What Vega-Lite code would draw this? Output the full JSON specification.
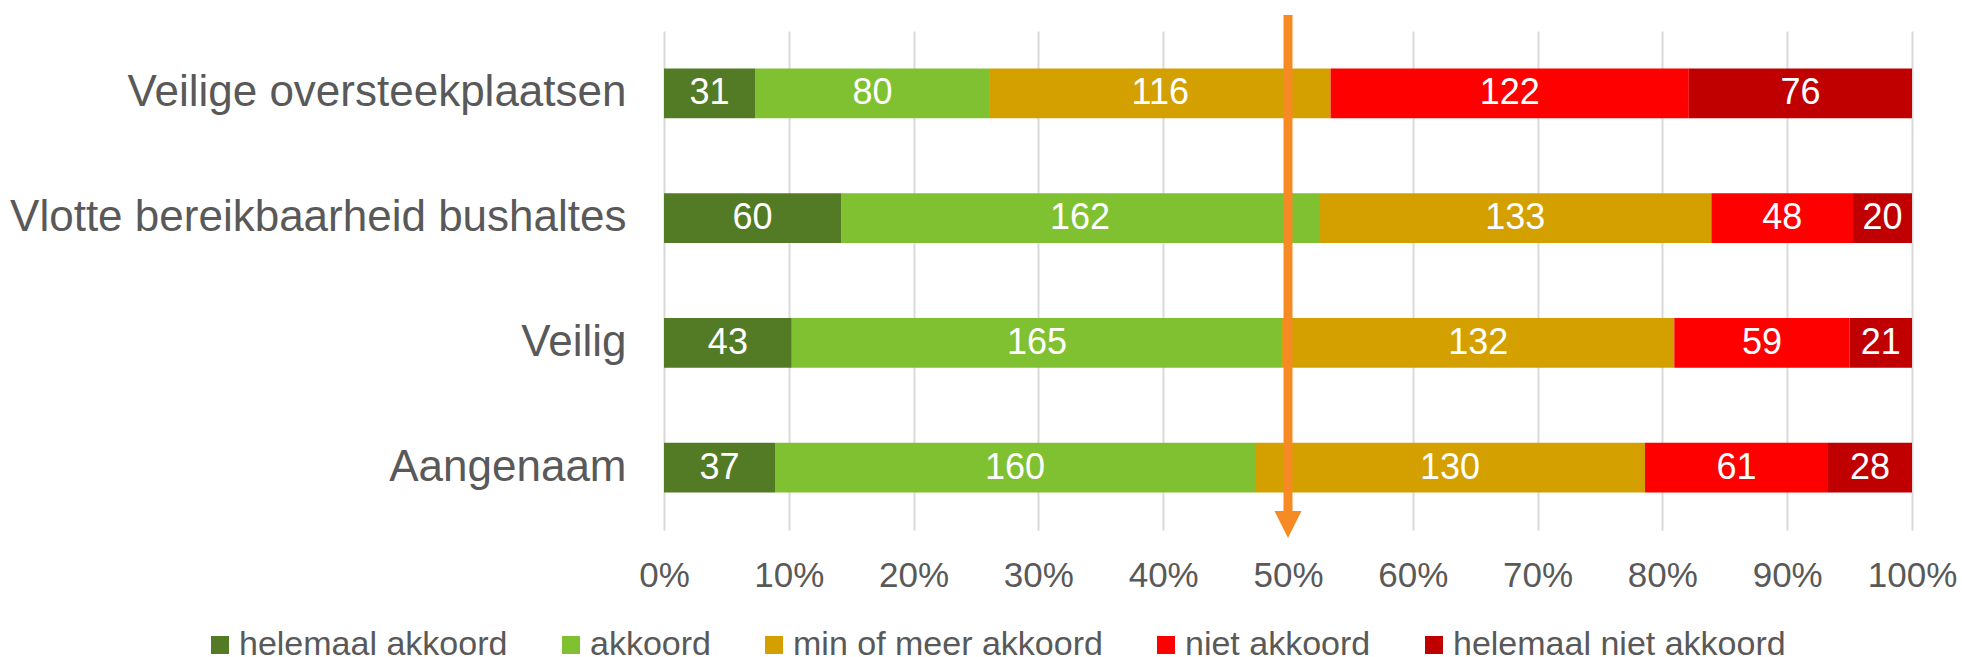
{
  "$schema": "https://vega.github.io/schema/vega-lite/v6.json",
  "width": 1248,
  "height": 499,
  "autosize": {"type": "none"},
  "padding": {"left": 664, "top": 31, "right": 50, "bottom": 127},
  "background": "white",
  "config": {
    "view": {"stroke": null},
    "font": "Liberation Sans"
  },
  "layer": [
    {
      "data": {
        "values": [
          {"q": "Veilige oversteekplaatsen", "cat": "helemaal akkoord", "k": 1, "n": 31},
          {"q": "Veilige oversteekplaatsen", "cat": "akkoord", "k": 2, "n": 80},
          {"q": "Veilige oversteekplaatsen", "cat": "min of meer akkoord", "k": 3, "n": 116},
          {"q": "Veilige oversteekplaatsen", "cat": "niet akkoord", "k": 4, "n": 122},
          {"q": "Veilige oversteekplaatsen", "cat": "helemaal niet akkoord", "k": 5, "n": 76},
          {"q": "Vlotte bereikbaarheid bushaltes", "cat": "helemaal akkoord", "k": 1, "n": 60},
          {"q": "Vlotte bereikbaarheid bushaltes", "cat": "akkoord", "k": 2, "n": 162},
          {"q": "Vlotte bereikbaarheid bushaltes", "cat": "min of meer akkoord", "k": 3, "n": 133},
          {"q": "Vlotte bereikbaarheid bushaltes", "cat": "niet akkoord", "k": 4, "n": 48},
          {"q": "Vlotte bereikbaarheid bushaltes", "cat": "helemaal niet akkoord", "k": 5, "n": 20},
          {"q": "Veilig", "cat": "helemaal akkoord", "k": 1, "n": 43},
          {"q": "Veilig", "cat": "akkoord", "k": 2, "n": 165},
          {"q": "Veilig", "cat": "min of meer akkoord", "k": 3, "n": 132},
          {"q": "Veilig", "cat": "niet akkoord", "k": 4, "n": 59},
          {"q": "Veilig", "cat": "helemaal niet akkoord", "k": 5, "n": 21},
          {"q": "Aangenaam", "cat": "helemaal akkoord", "k": 1, "n": 37},
          {"q": "Aangenaam", "cat": "akkoord", "k": 2, "n": 160},
          {"q": "Aangenaam", "cat": "min of meer akkoord", "k": 3, "n": 130},
          {"q": "Aangenaam", "cat": "niet akkoord", "k": 4, "n": 61},
          {"q": "Aangenaam", "cat": "helemaal niet akkoord", "k": 5, "n": 28}
        ]
      },
      "encoding": {
        "y": {
          "field": "q",
          "type": "nominal",
          "sort": null,
          "title": null,
          "scale": {"paddingInner": 0.6, "paddingOuter": 0.3},
          "axis": {
            "domain": false,
            "ticks": false,
            "labelFontSize": 44,
            "labelColor": "#595959",
            "labelPadding": 38,
            "labelLimit": 1000
          }
        },
        "x": {
          "field": "n",
          "type": "quantitative",
          "stack": "normalize",
          "title": null,
          "scale": {"domain": [0, 1], "nice": false},
          "axis": {
            "format": ".0%",
            "values": [0, 0.1, 0.2, 0.3, 0.4, 0.5, 0.6, 0.7, 0.8, 0.9, 1],
            "domain": false,
            "ticks": false,
            "grid": true,
            "gridColor": "#d9d9d9",
            "gridWidth": 2,
            "labelFontSize": 35,
            "labelColor": "#595959",
            "labelPadding": 28,
            "labelFlush": false
          }
        },
        "order": {"field": "k", "type": "quantitative"}
      },
      "layer": [
        {
          "mark": {"type": "bar"},
          "encoding": {
            "color": {
              "field": "cat",
              "type": "nominal",
              "title": null,
              "scale": {
                "domain": ["helemaal akkoord", "akkoord", "min of meer akkoord", "niet akkoord", "helemaal niet akkoord"],
                "range": ["#537B25", "#7FC131", "#D3A000", "#FF0000", "#C00000"]
              },
              "legend": {
                "orient": "none",
                "legendX": -461,
                "legendY": 597,
                "direction": "horizontal",
                "symbolType": "square",
                "symbolSize": 324,
                "symbolStrokeWidth": 0,
                "symbolOpacity": 1,
                "labelFontSize": 34,
                "labelColor": "#595959",
                "labelOffset": 2,
                "columnPadding": 46,
                "labelLimit": 1000,
                "padding": 0
              }
            }
          }
        },
        {
          "mark": {"type": "text", "color": "white", "fontSize": 36, "align": "center", "baseline": "middle"},
          "encoding": {
            "x": {"field": "n", "type": "quantitative", "stack": "normalize", "bandPosition": 0.5},
            "text": {"field": "n", "type": "quantitative"}
          }
        }
      ]
    },
    {
      "data": {"values": [{"p": 0.5}]},
      "encoding": {
        "x": {"field": "p", "type": "quantitative"}
      },
      "layer": [
        {
          "mark": {"type": "rule", "color": "#F68B26", "strokeWidth": 9, "clip": false},
          "encoding": {
            "y": {"datum": -16, "type": "quantitative", "scale": {"domain": [0, 499], "reverse": true, "nice": false, "zero": false}, "axis": null},
            "y2": {"datum": 480}
          }
        },
        {
          "mark": {"type": "point", "shape": "M-1,-1L1,-1L0,1Z", "filled": true, "color": "#F68B26", "opacity": 1, "size": 729, "strokeWidth": 0, "clip": false},
          "encoding": {
            "y": {"datum": 493.5, "type": "quantitative", "scale": {"domain": [0, 499], "reverse": true, "nice": false, "zero": false}, "axis": null}
          }
        }
      ]
    }
  ],
  "resolve": {"scale": {"y": "independent"}, "axis": {"y": "independent"}}
}
